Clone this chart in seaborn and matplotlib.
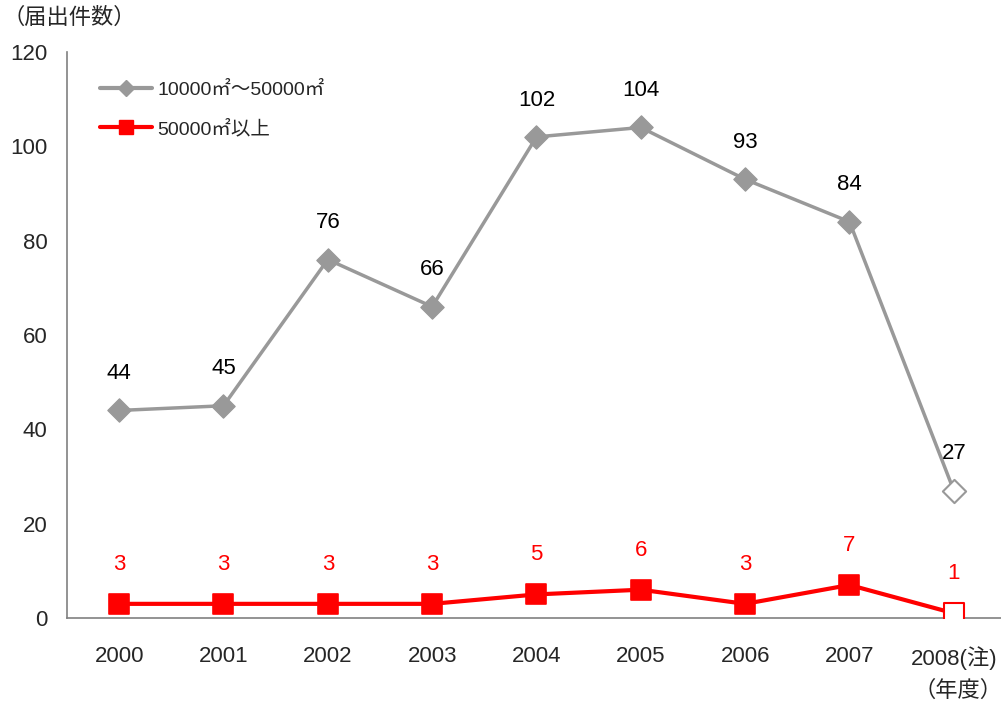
import matplotlib
matplotlib.use("Agg")
import matplotlib.pyplot as plt
import seaborn as sns
import pandas as pd
from matplotlib.lines import Line2D

years = ["2000", "2001", "2002", "2003", "2004", "2005", "2006", "2007", "2008(注)"]
mid_size = [44, 45, 76, 66, 102, 104, 93, 84, 27]
large_size = [3, 3, 3, 3, 5, 6, 3, 7, 1]
label_mid = "10000㎡～50000㎡"
label_large = "50000㎡以上"

sns.set_style("white")
plt.rcParams["font.family"] = ["Liberation Sans", "Noto Sans CJK JP", "DejaVu Sans"]

GRAY = "#999999"
RED = "#FF0000"
FS = 16

df = pd.DataFrame({"pos": range(len(years)), "mid": mid_size, "large": large_size})

fig = plt.figure(figsize=(10.01, 7.04), dpi=100)
ax = fig.add_axes([67 / 1001, 1 - 618 / 704, (1006 - 67) / 1001, (618 - 52) / 704])

# lines
sns.lineplot(data=df, x="pos", y="mid", ax=ax, color=GRAY, lw=2.5, legend=False)
sns.lineplot(data=df, x="pos", y="large", ax=ax, color=RED, lw=3, legend=False)

# markers: filled for confirmed years, hollow for the preliminary last year
confirmed = df.iloc[:-1]
prelim = df.iloc[-1:]
sns.scatterplot(data=confirmed, x="pos", y="mid", ax=ax, marker="D", s=140,
                color=GRAY, edgecolor=GRAY, zorder=3, legend=False)
sns.scatterplot(data=prelim, x="pos", y="mid", ax=ax, marker="D", s=140,
                facecolor="white", edgecolor=GRAY, linewidth=1.5, zorder=3, legend=False)
sns.scatterplot(data=confirmed, x="pos", y="large", ax=ax, marker="s", s=220,
                color=RED, edgecolor=RED, zorder=3, legend=False)
sns.scatterplot(data=prelim, x="pos", y="large", ax=ax, marker="s", s=220,
                facecolor="white", edgecolor=RED, linewidth=1.5, zorder=3, legend=False)

# value labels
for p, v in zip(df["pos"], mid_size):
    ax.annotate(str(v), (p, v), xytext=(0, 19), textcoords="offset points",
                ha="center", va="bottom", fontsize=FS, color="black")
for p, v in zip(df["pos"], large_size):
    ax.annotate(str(v), (p, v), xytext=(0, 21), textcoords="offset points",
                ha="center", va="bottom", fontsize=FS, color=RED)

ax.set_xlim(-0.5, len(years) - 0.5)
ax.set_ylim(0, 120)
ax.set_yticks(range(0, 121, 20))
ax.set_xticks(range(len(years)))
ax.set_xticklabels(years)
ax.set_xticks([i + 0.5 for i in range(len(years) - 1)], minor=True)
ax.set_xlabel("")
ax.set_ylabel("")

ax.tick_params(axis="x", which="major", length=0, pad=20, labelsize=FS)
ax.tick_params(axis="x", which="minor", direction="in", length=5, color="#555555", width=1)
ax.tick_params(axis="y", which="major", direction="out", length=5, color="#555555",
               width=1, labelsize=FS, pad=9)

for s in ["top", "right"]:
    ax.spines[s].set_visible(False)
for s in ["left", "bottom"]:
    ax.spines[s].set_color("#808080")
    ax.spines[s].set_linewidth(1.2)

handles = [
    Line2D([], [], color=GRAY, lw=3, marker="D", markersize=8),
    Line2D([], [], color=RED, lw=3, marker="s", markersize=10),
]
ax.legend(handles, [label_mid, label_large], loc="upper left",
          bbox_to_anchor=(0.035, 0.948), frameon=False, fontsize=14,
          borderpad=0, borderaxespad=0,
          handlelength=2.7, handletextpad=0.27, labelspacing=1.05)

fig.text(3 / 1001, 1 - 18 / 704, "（届出件数）", fontsize=FS, ha="left", va="center")
fig.text(1003 / 1001, 1 - 691 / 704, "（年度）", fontsize=FS, ha="right", va="center")

fig.savefig("out.png", dpi=100)
